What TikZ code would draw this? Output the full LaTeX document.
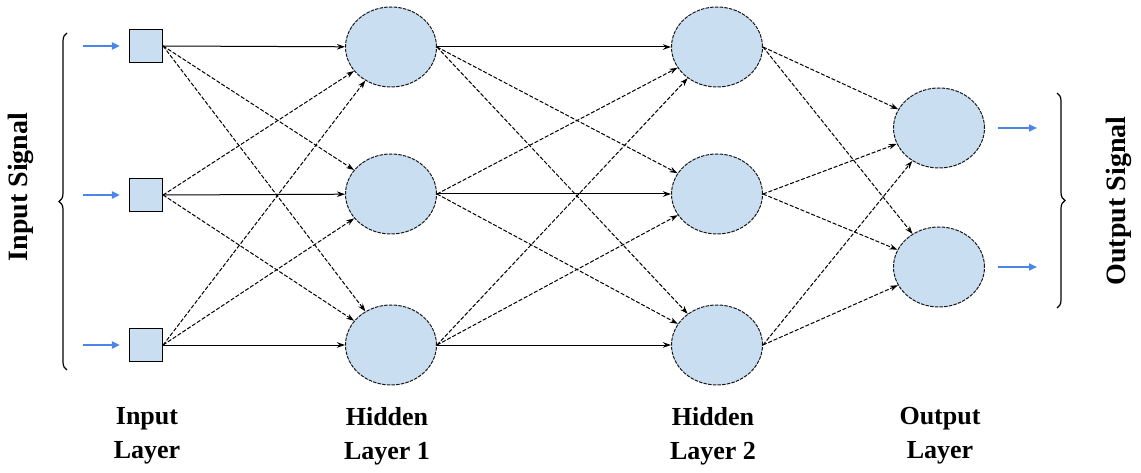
\documentclass[tikz,border=0pt]{standalone}
\usepackage{fontspec}
\setmainfont{Liberation Serif}
\usetikzlibrary{arrows.meta,decorations.pathreplacing,shapes.geometric,calc}
\definecolor{nodefill}{RGB}{201,222,241}
\definecolor{sigblue}{RGB}{74,134,232}
\begin{document}
\begin{tikzpicture}[x=1pt,y=-1pt,
 inbox/.style={draw, line width=1.2pt, fill=nodefill, minimum size=33pt, inner sep=0pt},
 neuron/.style={ellipse, draw=black!90, dash pattern=on 3.5pt off 1.2pt, line width=1pt, fill=nodefill, minimum width=91pt, minimum height=80pt, inner sep=0pt},
 solidarrow/.style={line width=1pt, -{Stealth[length=8pt,width=5.5pt]}},
 dasharrow/.style={solidarrow, dash pattern=on 4pt off 1.8pt},
 sigarrow/.style={sigblue, line width=2pt, -{Triangle[length=8pt,width=7pt]}},
 lbl/.style={font=\fontsize{26}{34}\selectfont\bfseries, align=center},
 sig/.style={font=\fontsize{28}{34}\selectfont\bfseries, rotate=90},
 brc/.style={decorate, decoration={brace, amplitude=8pt}, line width=1.2pt}
]
\useasboundingbox (0,0) rectangle (1141,473);

% input layer
\node[inbox] (i1) at (146,46) {};
\node[inbox] (i2) at (146,195) {};
\node[inbox] (i3) at (146,345) {};
% hidden layer 1
\node[neuron] (a1) at (391,47) {};
\node[neuron] (a2) at (391,194) {};
\node[neuron] (a3) at (391,345) {};
% hidden layer 2
\node[neuron] (b1) at (717,47) {};
\node[neuron] (b2) at (717,194) {};
\node[neuron] (b3) at (717,345) {};
% output layer
\node[neuron] (o1) at (939,128) {};
\node[neuron] (o2) at (939,267) {};

% connections
\foreach \s in {1,2,3}{
  \foreach \t in {1,2,3}{
    \ifnum\s=\t
      \draw[solidarrow] (i\s.east) -- (a\t);
      \draw[solidarrow] (a\s.east) -- (b\t);
    \else
      \draw[dasharrow] (i\s.east) -- (a\t);
      \draw[dasharrow] (a\s.east) -- (b\t);
    \fi
  }
  \foreach \t in {1,2}{
    \draw[dasharrow] (b\s.east) -- (o\t);
  }
}

% input signal arrows
\foreach \k in {1,2,3}{
  \coordinate (is\k) at ($(i\k.west)+(-46,0)$);
  \coordinate (ie\k) at ($(i\k.west)+(-9,0)$);
}
\draw[sigarrow] (is1) -- (ie1);
\draw[sigarrow] (is2) -- (ie2);
\draw[sigarrow] (is3) -- (ie3);

% output signal arrows
\coordinate (os1) at (998,128);
\coordinate (oe1) at (1037,128);
\coordinate (os2) at (998,267);
\coordinate (oe2) at (1037,267);
\draw[sigarrow] (os1) -- (oe1);
\draw[sigarrow] (os2) -- (oe2);

% braces
\coordinate (lb1) at (67,370);
\coordinate (lb2) at (67,33);
\draw[brc] (lb1) -- (lb2);
\coordinate (rb1) at (1057,93);
\coordinate (rb2) at (1057,308);
\draw[brc] (rb1) -- (rb2);

% signal labels
\node[sig] (insig) at (21,187) {Input Signal};
\node[sig] (outsig) at (1119,201) {Output Signal};

% layer labels
\node[lbl] (l1) at (147,436) {Input\\Layer};
\node[lbl] (l2) at (387,436) {Hidden\\Layer 1};
\node[lbl] (l3) at (713,436) {Hidden\\Layer 2};
\node[lbl] (l4) at (940,436) {Output\\Layer};
\end{tikzpicture}
\end{document}
